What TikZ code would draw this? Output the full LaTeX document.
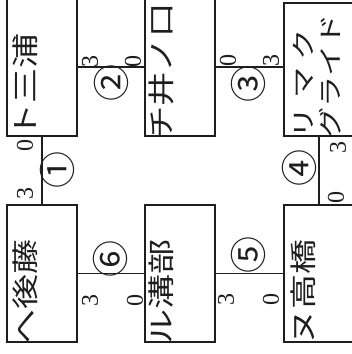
\documentclass[tikz,border=0pt]{standalone}
\usepackage{fontspec}
\newfontfamily\jp{Noto Sans CJK JP}
\newfontfamily\digitfont{Liberation Serif}
\definecolor{ink}{HTML}{1E1E1E}
\begin{document}
\begin{tikzpicture}[x=1pt,y=-1pt,
  box/.style={draw=ink, line width=1.3pt, minimum width=70pt, inner sep=0pt, outer sep=0pt},
  conn/.style={draw=ink, line width=1.3pt},
  player/.style={rotate=90, anchor=west, inner sep=0pt, text=ink, font=\jp\fontsize{27}{27}\selectfont},
  playersm/.style={player, font=\jp\fontsize{24}{24}\selectfont},
  score/.style={rotate=90, inner sep=0pt, text=ink, font=\digitfont\fontsize{24}{24}\selectfont},
  gameno/.style={rotate=90, inner sep=0pt, text=ink, font=\jp\fontsize{37}{37}\selectfont}]
\useasboundingbox (0,0) rectangle (352,354);
\clip (0,0) rectangle (352,354);
% boxes
\node[box, minimum height=138pt] (A) at (42,67) {};
\node[box, minimum height=138pt] (B) at (180,67) {};
\node[box, minimum height=133pt] (C) at (319,69.5) {};
\node[box, minimum height=137pt] (D) at (42,273.5) {};
\node[box, minimum height=137pt] (E) at (180,273.5) {};
\node[box, minimum height=137pt] (F) at (319,273.5) {};
% connectors
\draw[conn] (A.south) -- (D.north);
\draw[conn] (A.east) -- (B.west);
\draw[conn] (B.east) -- (B.east -| C.west);
\draw[conn] (C.south) -- (F.north);
\draw[conn] (D.east) -- (E.west);
\draw[conn] (E.east) -- (F.west);
% names
\node[player] (tA) at (25,139) {\scalebox{1.3}[1]{ト三浦}};
\node[player] (tB) at (161,141) {\scalebox{1.27}[1]{チ井ノ口}};
\node[playersm] (tC1) at (303,139) {\scalebox{1.3}[1]{リ\kern7ptマ\kern5ptク}};
\node[playersm] (tC2) at (330,139) {\scalebox{1.3}[1]{グライド}};
\node[player] (tD) at (25,345) {\scalebox{1.3}[1]{ヘ後藤}};
\node[player] (tE) at (161,345) {\scalebox{1.3}[1]{ル溝部}};
\node[player] (tF) at (303,345) {\scalebox{1.3}[1]{ヌ高橋}};
% game numbers
\node[gameno] (g1) at (57,170) {①};
\node[gameno] (g2) at (111,83) {②};
\node[gameno] (g3) at (248,84) {③};
\node[gameno] (g4) at (299,168) {④};
\node[gameno] (g5) at (248,255) {⑤};
\node[gameno] (g6) at (110,259) {⑥};
% scores
\node[score] (s1a) at (25,145) {0};
\node[score] (s1b) at (25,193) {3};
\node[score] (s2a) at (90,61) {3};
\node[score] (s2b) at (133,61) {0};
\node[score] (s3a) at (228,60) {0};
\node[score] (s3b) at (271,60) {3};
\node[score] (s4a) at (338,147) {3};
\node[score] (s4b) at (336,197) {0};
\node[score] (s5a) at (226,299) {3};
\node[score] (s5b) at (271,299) {0};
\node[score] (s6a) at (90,300) {3};
\node[score] (s6b) at (135,300) {0};
\end{tikzpicture}
\end{document}
